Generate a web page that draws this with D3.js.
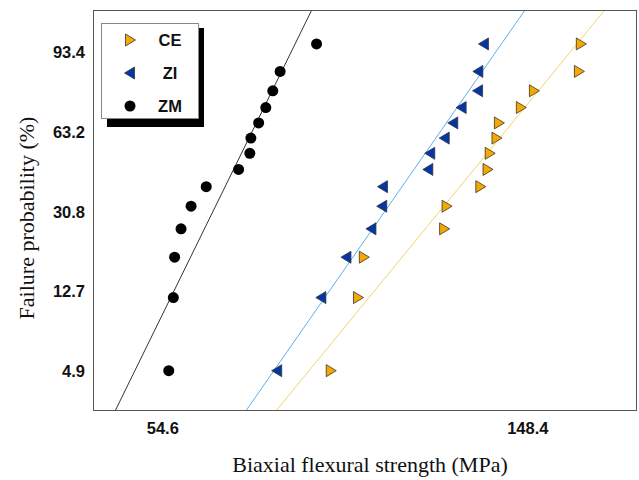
<!DOCTYPE html>
<meta charset="utf-8">
<style>
body { margin: 0; background: #fff; }
.tick-label { font: bold 16.5px "Liberation Sans", Arial, sans-serif; fill: #111; }
.legend-label { font: bold 16.5px "Liberation Sans", Arial, sans-serif; fill: #111; }
.axis-title { font: 22px "Liberation Serif", "Times New Roman", serif; fill: #111; }
.frame { fill: none; stroke: #555; stroke-width: 1; }
</style>
<body>
<script src="https://cdn.jsdelivr.net/npm/d3@7"></script>
<script>

// median-rank failure probabilities (%) shared by the three groups
var failureProb = [4.9, 11.8, 18.8, 25.7, 32.6, 39.6, 46.5, 53.5, 60.4, 67.4, 74.3, 81.3, 88.2, 95.1];

var groups = ["CE", "ZI", "ZM"];
var ceStrength = [86.5, 93.2, 94.7, 118.0, 118.8, 130.3, 132.9, 133.7, 136.2, 137.1, 145.6, 150.9, 170.7, 171.6];
var ziStrength = [74.7, 84.3, 90.3, 96.7, 99.6, 99.8, 113.0, 113.6, 118.2, 121.0, 123.8, 129.5, 129.6, 131.6];
var zmStrength = [55.5, 56.2, 56.4, 57.4, 59.0, 61.5, 67.2, 69.3, 69.5, 71.0, 72.4, 73.8, 75.3, 83.2];

// fitted Weibull lines: modulus m and characteristic strength (MPa)
var weibullModulus = [5.58, 6.57, 9.33];
var charStrength = [139.3, 116.7, 69.7];

var yTicks = [4.9, 12.7, 30.8, 63.2, 93.4];
var xTicks = [54.6, 148.4];

var width = 639, height = 480;
var plotLeft = 93, plotRight = 636, plotTop = 10, plotBottom = 410;

var svg = d3.select("body").append("svg")
    .attr("width", width)
    .attr("height", height);

var x = d3.scaleLog().domain([45.1, 199.6]).range([plotLeft, plotRight]);
var y = d3.scaleLinear().domain([-3.484, 1.529]).range([plotBottom, plotTop]);

function weibit(p) {
  return Math.log(-Math.log(1 - p / 100));
}

var series = [
  {name: "CE", values: ceStrength, fill: "#f7a800", line: "#f2d46a", shape: "right"},
  {name: "ZI", values: ziStrength, fill: "#0536a8", line: "#5db0ee", shape: "left"},
  {name: "ZM", values: zmStrength, fill: "#000", line: "#333", shape: "circle"}
];
series.forEach(function(s, i) {
  s.m = weibullModulus[i];
  s.s0 = charStrength[i];
});

svg.append("clipPath").attr("id", "plot")
  .append("rect")
    .attr("x", plotLeft).attr("y", plotTop)
    .attr("width", plotRight - plotLeft).attr("height", plotBottom - plotTop);

// fit lines
var dom = x.domain();
svg.append("g").attr("clip-path", "url(#plot)")
  .selectAll("line")
  .data(series)
  .join("line")
    .attr("x1", x(dom[0]))
    .attr("x2", x(dom[1]))
    .attr("y1", function(d) { return y(d.m * (Math.log(dom[0]) - Math.log(d.s0))); })
    .attr("y2", function(d) { return y(d.m * (Math.log(dom[1]) - Math.log(d.s0))); })
    .attr("stroke", function(d) { return d.line; })
    .attr("stroke-width", 1);

function drawMarker(sel, shape, fill) {
  if (shape == "circle") {
    sel.append("circle").attr("r", 5.5).attr("fill", fill);
  } else if (shape == "right") {
    sel.append("path").attr("d", "M-4.5,-6L5.5,0L-4.5,6Z")
      .attr("fill", fill).attr("stroke", "#333").attr("stroke-width", 0.8);
  } else {
    sel.append("path").attr("d", "M4.5,-6L-5.5,0L4.5,6Z")
      .attr("fill", fill).attr("stroke", "#333").attr("stroke-width", 0.8);
  }
}

// points
series.forEach(function(s) {
  svg.append("g").selectAll("g")
    .data(s.values)
    .join("g")
      .attr("transform", function(d, i) {
        return "translate(" + x(d) + "," + y(weibit(failureProb[i])) + ")";
      })
      .each(function() { drawMarker(d3.select(this), s.shape, s.fill); });
});

// frame
svg.append("rect").attr("class", "frame")
  .attr("x", plotLeft + 0.5).attr("y", plotTop + 0.5)
  .attr("width", plotRight - plotLeft).attr("height", plotBottom - plotTop);

// tick labels
svg.append("g").selectAll("text")
  .data(yTicks)
  .join("text")
    .attr("class", "tick-label")
    .attr("x", 85)
    .attr("y", function(d) { return y(weibit(d)); })
    .attr("dy", "0.36em")
    .attr("text-anchor", "end")
    .text(function(d) { return d.toFixed(1); });

svg.append("g").selectAll("text")
  .data(xTicks)
  .join("text")
    .attr("class", "tick-label")
    .attr("x", function(d) { return x(d); })
    .attr("y", 434)
    .attr("text-anchor", "middle")
    .text(function(d) { return d.toFixed(1); });

// axis titles
svg.append("text").attr("class", "axis-title")
  .attr("x", 370).attr("y", 472)
  .attr("text-anchor", "middle")
  .text("Biaxial flexural strength (MPa)");

svg.append("text").attr("class", "axis-title")
  .attr("transform", "translate(34,218) rotate(-90)")
  .attr("text-anchor", "middle")
  .text("Failure probability (%)");

// legend
var legend = svg.append("g");
legend.append("rect")
  .attr("x", 107).attr("y", 28).attr("width", 97).attr("height", 99)
  .attr("fill", "#000");
legend.append("rect")
  .attr("x", 101.5).attr("y", 23.5).attr("width", 97).attr("height", 95)
  .attr("fill", "#fff").attr("stroke", "#888");

var items = legend.selectAll("g.item")
  .data(series)
  .join("g")
    .attr("class", "item")
    .attr("transform", function(d, i) { return "translate(0," + (40 + i * 33) + ")"; });
items.each(function(d) {
  var g = d3.select(this).append("g").attr("transform", "translate(130,0)");
  drawMarker(g, d.shape, d.fill);
});
items.append("text")
  .attr("class", "legend-label")
  .attr("x", 170)
  .attr("dy", "0.36em")
  .attr("text-anchor", "middle")
  .text(function(d, i) { return groups[i]; });

</script>
</body>
